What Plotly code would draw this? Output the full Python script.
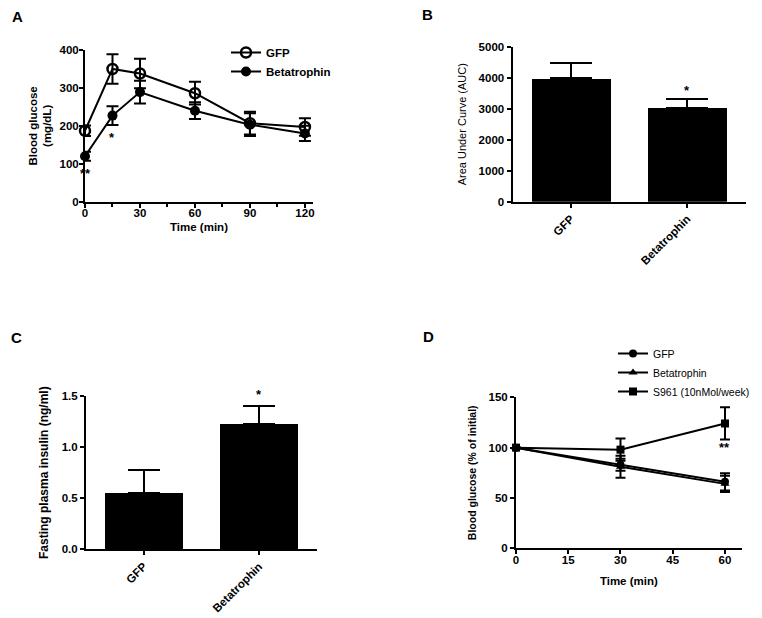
import plotly.graph_objects as go

W, H = 762, 618
F = "Liberation Sans, Arial, sans-serif"

# ---------------- data ----------------
# Panel A: glucose tolerance
time_a = [0, 15, 30, 60, 90, 120]
gfp_a = [187, 350, 338, 286, 207, 197]
gfp_a_err = [14, 39, 39, 30, 30, 23]
beta_a = [120, 227, 289, 240, 203, 180]
beta_a_err = [12, 25, 30, 22, 30, 20]

# Panel B: area under curve
groups = ["GFP", "Betatrophin"]
auc = [3980, 3030]
auc_err = [500, 270]

# Panel C: fasting plasma insulin
insulin = [0.548, 1.222]
insulin_err = [0.228, 0.183]

# Panel D: insulin tolerance (% of initial)
time_d = [0, 30, 60]
gfp_d = [100, 83, 66]
gfp_d_err = [0, 6, 8.5]
beta_d = [100, 81, 64]
beta_d_err = [0, 11, 8]
s961_d = [100, 98, 124]
s961_d_err = [0, 11, 16]

# ---------------- helpers ----------------
def xd(l, r):
    return [l / W, r / W]

def yd(top, bottom):
    return [1 - bottom / H, 1 - top / H]

def tfont(size=10, bold=True):
    d = dict(family=F, size=size, color="black")
    if bold:
        d["weight"] = "bold"
    return d

common = dict(showline=True, linecolor="black", linewidth=2, ticks="outside",
              tickcolor="black", tickwidth=2, ticklen=4, showgrid=False,
              zeroline=False, tickfont=tfont(11.5), fixedrange=True, automargin=False)

fig = go.Figure()

# ---- Panel A ----
fig.add_trace(go.Scatter(
    x=time_a, y=gfp_a, name="GFP", mode="lines+markers",
    line=dict(color="black", width=2),
    marker=dict(symbol="circle-open", size=10, color="black", line=dict(width=2.5, color="black")),
    error_y=dict(type="data", array=gfp_a_err, color="black", thickness=2, width=6),
    xaxis="x", yaxis="y", legend="legend", cliponaxis=False))
fig.add_trace(go.Scatter(
    x=time_a, y=beta_a, name="Betatrophin", mode="lines+markers",
    line=dict(color="black", width=2),
    marker=dict(symbol="circle", size=10, color="black"),
    error_y=dict(type="data", array=beta_a_err, color="black", thickness=2, width=6),
    xaxis="x", yaxis="y", legend="legend", cliponaxis=False))

# ---- Panel B ----
fig.add_trace(go.Bar(
    x=groups, y=auc, width=0.676, marker=dict(color="black", line=dict(width=0)),
    error_y=dict(type="data", array=auc_err, arrayminus=[0, 0], symmetric=False,
                 color="black", thickness=2, width=21),
    xaxis="x2", yaxis="y2", showlegend=False, cliponaxis=False))

# ---- Panel C ----
fig.add_trace(go.Bar(
    x=groups, y=insulin, width=0.676, marker=dict(color="black", line=dict(width=0)),
    error_y=dict(type="data", array=insulin_err, arrayminus=[0, 0], symmetric=False,
                 color="black", thickness=2, width=16),
    xaxis="x3", yaxis="y3", showlegend=False, cliponaxis=False))

# ---- Panel D ----
for name, vals, err, sym in [("GFP", gfp_d, gfp_d_err, "circle"),
                             ("Betatrophin", beta_d, beta_d_err, "triangle-up"),
                             ("S961 (10nMol/week)", s961_d, s961_d_err, "square")]:
    fig.add_trace(go.Scatter(
        x=time_d, y=vals, name=name, mode="lines+markers",
        line=dict(color="black", width=2),
        marker=dict(symbol=sym, size=8, color="black"),
        error_y=dict(type="data", array=err, color="black", thickness=2, width=5),
        xaxis="x4", yaxis="y4", legend="legend2", cliponaxis=False))

# ---------------- layout ----------------
fig.update_layout(
    width=W, height=H, margin=dict(l=0, r=0, t=0, b=0, autoexpand=False),
    paper_bgcolor="white", plot_bgcolor="rgba(0,0,0,0)",
    font=dict(family=F, color="black"),
    bargap=0,
    xaxis=dict(**common, domain=xd(85, 313), range=[0, 124.4], tickvals=[0, 30, 60, 90, 120],
               minor=dict(ticks="outside", tickvals=[15, 45, 75, 105], ticklen=3, tickwidth=1.5,
                          tickcolor="black", showgrid=False),
               anchor="y", ticklabelstandoff=-5,
               title=dict(text="Time (min)", font=tfont(11.5), standoff=5)),
    yaxis=dict(**common, domain=yd(50, 201.7), range=[0, 400], tickvals=[0, 100, 200, 300, 400],
               anchor="x", ticklabelstandoff=-2,
               title=dict(text="Blood glucose<br>(mg/dL)", font=tfont(11.5), standoff=5)),
    xaxis2=dict(**common, domain=xd(512.5, 745.5), range=[-0.5, 1.5], tickangle=-45, anchor="y2"),
    yaxis2=dict(**common, domain=yd(46.7, 201.7), range=[0, 5000],
                tickvals=[0, 1000, 2000, 3000, 4000, 5000], anchor="x2",
                title=dict(text="Area Under Curve (AUC)", font=tfont(11, bold=False), standoff=10)),
    xaxis3=dict(**common, domain=xd(86, 316.7), range=[-0.5, 1.5], tickangle=-45, anchor="y3"),
    yaxis3=dict(**common, domain=yd(396, 549.3), range=[0, 1.5],
                tickvals=[0, 0.5, 1.0, 1.5], tickformat=".1f", anchor="x3",
                title=dict(text="Fasting plasma insulin (ng/ml)", font=tfont(12), standoff=10)),
    xaxis4=dict(**common, domain=xd(516, 741.7), range=[0, 64.8],
                tickvals=[0, 15, 30, 45, 60], anchor="y4", ticklabelstandoff=-4,
                title=dict(text="Time (min)", font=tfont(11.5), standoff=12)),
    yaxis4=dict(**common, domain=yd(397.3, 548.3), range=[0, 150],
                tickvals=[0, 50, 100, 150], anchor="x4",
                title=dict(text="Blood glucose (% of initial)", font=tfont(10.5), standoff=10)),
    legend=dict(x=226 / W, y=1 - 38 / H, xanchor="left", yanchor="top",
                font=tfont(11.5), bgcolor="rgba(0,0,0,0)", itemwidth=30, tracegroupgap=0),
    legend2=dict(x=613 / W, y=1 - 339 / H, xanchor="left", yanchor="top",
                 font=tfont(10.5, bold=False), bgcolor="rgba(0,0,0,0)", itemwidth=30, tracegroupgap=0),
)

# ---------------- annotations ----------------
ann = []
# panel letters
for letter, px, py in [("A", 17, 16), ("B", 427, 15), ("C", 16, 337), ("D", 428, 336)]:
    ann.append(dict(text=letter, x=px / W, y=1 - py / H, xref="paper", yref="paper",
                    showarrow=False, font=tfont(15), xanchor="center", yanchor="middle"))
# significance marks
ann.append(dict(text="**", x=0, y=75, xref="x", yref="y", showarrow=False, font=tfont(13)))
ann.append(dict(text="*", x=15, y=168, xref="x", yref="y", showarrow=False, font=tfont(13)))
ann.append(dict(text="*", x="Betatrophin", y=3600, xref="x2", yref="y2", showarrow=False, font=tfont(13)))
ann.append(dict(text="*", x="Betatrophin", y=1.5, yshift=2, xref="x3", yref="y3", showarrow=False, font=tfont(13)))
ann.append(dict(text="**", x=60, y=100, xref="x4", yref="y4", showarrow=False, font=tfont(13)))
fig.update_layout(annotations=ann)

fig.write_html("out.html", config={"displayModeBar": False},
               post_script="document.body.style.margin='0';document.body.style.overflow='hidden';")
